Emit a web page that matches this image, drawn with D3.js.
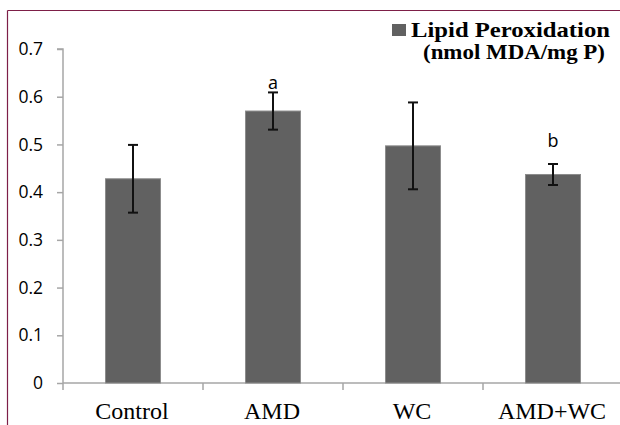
<!DOCTYPE html>
<html><head><meta charset="utf-8">
<script src="https://cdn.jsdelivr.net/npm/d3@7"></script>
<style>html,body{margin:0;padding:0;background:#fff;}svg{display:block;}</style>
</head><body>
<script>
const categories = ["Control", "AMD", "WC", "AMD+WC"];
const values = [0.428, 0.570, 0.497, 0.437];
const errors = [0.071, 0.039, 0.091, 0.022];
const sigLabels = ["", "a", "", "b"];
const sigLabelValues = [null, 0.616, null, 0.495];
const yTicks = [0, 0.1, 0.2, 0.3, 0.4, 0.5, 0.6, 0.7];
const legendLines = ["Lipid Peroxidation", "(nmol MDA/mg P)"];

const W = 620, H = 425;
const svg = d3.select("body").append("svg").attr("width", W).attr("height", H);

// frame lines
svg.append("line").attr("x1", 7.5).attr("x2", 620).attr("y1", 10.5).attr("y2", 10.5)
  .attr("stroke", "#7d1f48").attr("stroke-width", 1.2);
svg.append("line").attr("x1", 7.5).attr("x2", 7.5).attr("y1", 10.5).attr("y2", 425)
  .attr("stroke", "#7d1f48").attr("stroke-width", 1.2);

const x = d3.scaleBand().domain(categories).range([63, 623]).paddingInner(0).paddingOuter(0);
const y = d3.scaleLinear().domain([0, 0.7]).range([383, 49]);
const axisColor = "#a6a6a6";

// y axis
const ya = svg.append("g").attr("transform", "translate(63,0)")
  .call(d3.axisLeft(y).tickValues(yTicks).tickFormat(d => d === 0 ? "0" : d3.format(".1f")(d)).tickSize(6).tickPadding(14));
ya.select(".domain").attr("stroke", axisColor).attr("stroke-width", 1.5).attr("d", `M-6,${y(0.7)}H0V${y(0)}`);
ya.selectAll(".tick line").attr("stroke", axisColor).attr("stroke-width", 1.5);
ya.selectAll(".tick text").attr("font-family", "'Open Sans', sans-serif").attr("font-size", 17.5).attr("fill", "#000");

// x axis
const xa = svg.append("g").attr("transform", "translate(0,383)");
xa.append("line").attr("x1", 63).attr("x2", 620).attr("y1", 0).attr("y2", 0)
  .attr("stroke", axisColor).attr("stroke-width", 1.5);
const boundaries = categories.map(c => x(c));
xa.selectAll("line.t").data(boundaries).enter().append("line").attr("class", "t")
  .attr("x1", d => d).attr("x2", d => d).attr("y1", 0).attr("y2", 7)
  .attr("stroke", axisColor).attr("stroke-width", 1.5);
xa.selectAll("text").data(categories).enter().append("text")
  .attr("x", d => x(d) + x.bandwidth() / 2 - 1).attr("y", 36)
  .attr("text-anchor", "middle")
  .attr("font-family", "'Liberation Serif', 'Times New Roman', serif")
  .attr("font-size", 24).attr("fill", "#000").text(d => d);

// bars
const bw = 55;
svg.selectAll("rect.bar").data(categories).enter().append("rect").attr("class", "bar")
  .attr("x", d => x(d) + x.bandwidth() / 2 - bw / 2)
  .attr("width", bw)
  .attr("y", (d, i) => y(values[i]))
  .attr("height", (d, i) => y(0) - y(values[i]))
  .attr("fill", "#616161").attr("stroke", "#8c8c8c").attr("stroke-width", 1);

// error bars
const eg = svg.selectAll("g.err").data(categories).enter().append("g").attr("class", "err");
eg.append("line")
  .attr("x1", d => x(d) + x.bandwidth() / 2).attr("x2", d => x(d) + x.bandwidth() / 2)
  .attr("y1", (d, i) => y(values[i] + errors[i])).attr("y2", (d, i) => y(values[i] - errors[i]))
  .attr("stroke", "#111").attr("stroke-width", 2);
[1, -1].forEach(s => {
  eg.append("line")
    .attr("x1", d => x(d) + x.bandwidth() / 2 - 5).attr("x2", d => x(d) + x.bandwidth() / 2 + 5)
    .attr("y1", (d, i) => y(values[i] + s * errors[i])).attr("y2", (d, i) => y(values[i] + s * errors[i]))
    .attr("stroke", "#111").attr("stroke-width", 2);
});

// significance labels
svg.selectAll("text.sig").data(categories.filter((d, i) => sigLabels[i])).enter().append("text").attr("class", "sig")
  .attr("x", d => x(d) + x.bandwidth() / 2)
  .attr("y", d => y(sigLabelValues[categories.indexOf(d)]))
  .attr("text-anchor", "middle")
  .attr("font-family", "'Open Sans', sans-serif").attr("font-size", 18).attr("fill", "#000")
  .text(d => sigLabels[categories.indexOf(d)]);

// legend
svg.append("rect").attr("x", 392).attr("y", 24).attr("width", 14).attr("height", 12).attr("fill", "#616161");
svg.append("text").attr("x", 411).attr("y", 37)
  .attr("font-family", "'Liberation Serif', 'Times New Roman', serif").attr("font-weight", "bold")
  .attr("font-size", 21).attr("fill", "#000")
  .attr("textLength", 199).attr("lengthAdjust", "spacingAndGlyphs").text(legendLines[0]);
svg.append("text").attr("x", 423).attr("y", 59)
  .attr("font-family", "'Liberation Serif', 'Times New Roman', serif").attr("font-weight", "bold")
  .attr("font-size", 21).attr("fill", "#000")
  .attr("textLength", 182).attr("lengthAdjust", "spacingAndGlyphs").text(legendLines[1]);
</script>
</body></html>
